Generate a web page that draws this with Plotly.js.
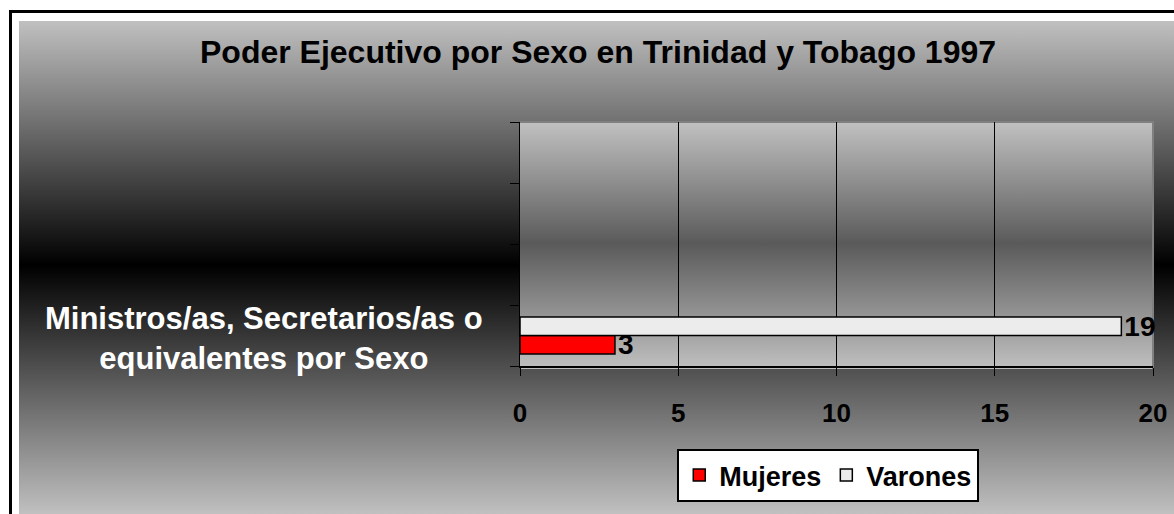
<!DOCTYPE html>
<html>
<head>
<meta charset="utf-8">
<script src="https://cdn.plot.ly/plotly-3.0.1.min.js"></script>
<style>
  html, body { margin: 0; padding: 0; background: #ffffff; width: 1174px; height: 514px; overflow: hidden; }
  #frame { position: absolute; left: 9px; top: 10px; width: 1165px; height: 504px;
           border-left: 3px solid #000; border-top: 3px solid #000; box-sizing: border-box; }
  #bg { position: absolute; left: 19px; top: 21px; width: 1155px; height: 493px;
        background: linear-gradient(to bottom, #c0c0c0 0%, #000000 49.5%, #c0c0c0 100%); }
  #plotbg { position: absolute; left: 520px; top: 121px; width: 634px; height: 248px; box-sizing: border-box;
            border-top: 2px solid #808080; border-right: 2px solid #808080;
            background: linear-gradient(to bottom, #c0c0c0 0%, #5a5a5a 49%, #c0c0c0 100%); }
  #chart { position: absolute; left: 0; top: 0; width: 1174px; height: 514px; }
</style>
</head>
<body>
<div id="frame"></div>
<div id="bg"></div>
<div id="plotbg"></div>
<div id="chart"></div>
<script>
// ---- data ----
const chartTitle = 'Poder Ejecutivo por Sexo en Trinidad y Tobago 1997';
const categories = ['Ministros/as, Secretarios/as o<br>equivalentes por Sexo'];
const seriesNames = ['Mujeres', 'Varones'];
const mujeres = [3];
const varones = [19];
const xTickVals = [0, 5, 10, 15, 20];

const FONT = 'Arial, "Liberation Sans", sans-serif';

const traces = [
  {
    type: 'bar', orientation: 'h', name: seriesNames[0],
    y: categories, x: mujeres,
    marker: { color: '#ff0000', line: { color: '#000000', width: 1.5 } },
    text: mujeres.map(String), textposition: 'outside', constraintext: 'none', cliponaxis: false,
    textfont: { family: FONT, size: 28, color: '#000000', weight: 'bold' },
    hoverinfo: 'x+name'
  },
  {
    type: 'bar', orientation: 'h', name: seriesNames[1],
    y: categories, x: varones,
    marker: { color: '#ececec', line: { color: '#000000', width: 1.5 } },
    text: varones.map(String), textposition: 'outside', constraintext: 'none', cliponaxis: false,
    textfont: { family: FONT, size: 28, color: '#000000', weight: 'bold' },
    hoverinfo: 'x+name'
  }
];

const layout = {
  width: 1174, height: 514,
  paper_bgcolor: 'rgba(0,0,0,0)', plot_bgcolor: 'rgba(0,0,0,0)',
  margin: { l: 520, r: 21, t: 122, b: 145, pad: 0 },
  font: { family: FONT, color: '#000000' },
  title: {
    text: chartTitle, x: 0.5094, xanchor: 'center', y: 0.899, yanchor: 'middle',
    font: { family: FONT, size: 32, color: '#000000', weight: 'bold' }
  },
  barmode: 'group', bargap: 0.39, bargroupgap: 0,
  xaxis: {
    range: [0, 20], tickvals: xTickVals, ticks: 'outside', ticklen: 8, tickwidth: 1, tickcolor: '#000000',
    showline: true, linecolor: '#000000', linewidth: 1.5,
    showgrid: true, gridcolor: '#000000', gridwidth: 1, zeroline: false,
    ticklabelstandoff: 15,
    tickfont: { family: FONT, size: 26, color: '#000000', weight: 'bold' },
    fixedrange: true
  },
  yaxis: {
    type: 'category', range: [-0.5, 3.5],
    tickmode: 'array', tickvals: [-0.5, 0.5, 1.5, 2.5, 3.5],
    ticks: 'outside', ticklen: 9, tickwidth: 1, tickcolor: '#000000',
    showline: true, linecolor: '#000000', linewidth: 1.5,
    showgrid: false, zeroline: false, showticklabels: false, fixedrange: true
  },
  annotations: [{
    text: categories[0], xref: 'paper', yref: 'y', x: -0.405, y: 0, yshift: -3,
    xanchor: 'center', yanchor: 'middle', align: 'center', showarrow: false,
    font: { family: FONT, size: 31, color: '#ffffff', weight: 'bold' }
  }],
  showlegend: true,
  legend: {
    orientation: 'h', x: 0.487, xanchor: 'center', y: -0.34, yanchor: 'top',
    bgcolor: '#ffffff', bordercolor: '#000000', borderwidth: 2,
    font: { family: FONT, size: 27, color: '#000000', weight: 'bold' },
    traceorder: 'normal', itemclick: false, itemdoubleclick: false
  }
};

Plotly.newPlot('chart', traces, layout, { displayModeBar: false, staticPlot: true });
</script>
</body>
</html>
